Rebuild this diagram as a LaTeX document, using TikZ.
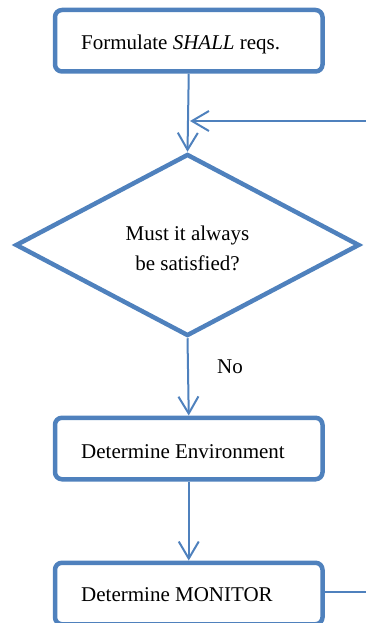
\documentclass[tikz,border=0pt]{standalone}
\usepackage{fontspec}
\setmainfont{Liberation Serif}
\usetikzlibrary{shapes.geometric,arrows.meta}
\definecolor{flowblue}{HTML}{4F81BD}
\tikzset{
  box/.style={draw=flowblue, line width=4.5pt, rounded corners=7pt, rectangle, minimum width=267.5pt, minimum height=61.5pt, inner sep=0pt, fill=white},
  decision/.style={draw=flowblue, line width=4.5pt, diamond, minimum width=344pt, minimum height=182pt, inner sep=0pt, aspect=1.89},
  conn/.style={draw=flowblue, line width=2pt},
  arr/.style={conn, -{Straight Barb[length=17pt, width=20pt, line width=2pt]}},
  lbl/.style={anchor=base, inner sep=0pt, font=\fontsize{21}{25}\selectfont},
  lblw/.style={anchor=base west, inner sep=0pt, font=\fontsize{21}{25}\selectfont}
}
\begin{document}
\begin{tikzpicture}[x=1pt,y=-1pt]
\useasboundingbox (0,0) rectangle (366,623);
\node[box] (b1) at (188.75,40.75) {};
\node[decision] (d) at (187.5,245) {};
\node[box] (b2) at (188.75,448.5) {};
\node[box] (b3) at (188.75,593.5) {};
\node[lblw] (t1) at (81,50) {Formulate \textit{SHALL} reqs.};
\node[lbl] (t2) at (187.5,240) {Must it always};
\node[lbl] (t3) at (187.5,270.7) {be satisfied?};
\node[lblw] (t4) at (81,458.3) {Determine Environment};
\node[lblw] (t5) at (81,601.7) {Determine MONITOR};
\node[lblw] (no) at (217,373.3) {No};
\coordinate (e1) at (366,121);
\coordinate (j1) at (190,121);
\coordinate (e3) at (366,592);
\draw[arr] (b1.south) -- (d.north);
\draw[arr] (e1) -- (j1);
\draw[arr] (d.south) -- (b2.north);
\draw[arr] (b2.south) -- (b3.north);
\draw[conn] (e3 -| b3.east) -- (e3);
\end{tikzpicture}
\end{document}
